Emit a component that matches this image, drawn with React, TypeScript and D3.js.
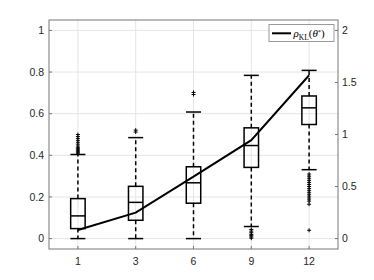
import * as d3 from "d3";

const categories = ["1", "3", "6", "9", "12"];
const whiskerLow = [0, 0, 0, 0.058, 0.331];
const q1 = [0.048, 0.088, 0.17, 0.342, 0.548];
const medians = [0.109, 0.174, 0.268, 0.447, 0.628];
const q3 = [0.192, 0.251, 0.345, 0.532, 0.685];
const whiskerHigh = [0.404, 0.485, 0.608, 0.784, 0.808];
const outliers = [
  [0.41, 0.415, 0.42, 0.425, 0.43, 0.435, 0.44, 0.45, 0.46, 0.47, 0.48, 0.49, 0.5],
  [0.512, 0.521],
  [0.692, 0.702],
  [0.002, 0.008, 0.014, 0.02, 0.028, 0.036, 0.044],
  [0.31, 0.3, 0.29, 0.28, 0.27, 0.26, 0.25, 0.24, 0.23, 0.22, 0.21, 0.2, 0.19, 0.18, 0.165, 0.04],
];
const rhoKL = [0.083, 0.249, 0.596, 0.946, 1.569];
const leftTicks = [0, 0.2, 0.4, 0.6, 0.8, 1];
const rightTicks = [0, 0.5, 1, 1.5, 2];

const W = 374;
const H = 280;
const margin = { left: 49, top: 20, right: 36, bottom: 31 };
const axisColor = "#777777";
const labelColor = "#262626";
const tickFont = "Liberation Sans, Arial, sans-serif";

export default function App() {
  const x = d3
    .scaleLinear()
    .domain([0.5, categories.length + 0.5])
    .range([margin.left, W - margin.right]);
  const y = d3
    .scaleLinear()
    .domain([-0.05, 1.05])
    .range([H - margin.bottom, margin.top]);
  const yR = d3
    .scaleLinear()
    .domain([-0.1, 2.1])
    .range([H - margin.bottom, margin.top]);

  const boxW = x(1.25) - x(1);
  const capW = 7.5;
  const x0 = margin.left;
  const x1 = W - margin.right;
  const y0 = margin.top;
  const y1 = H - margin.bottom;

  const line = d3
    .line<number>()
    .x((_, i) => x(i + 1))
    .y((d) => yR(d));

  return (
    <svg width={W} height={H} style={{ position: "absolute", left: 0, top: 0 }}>
      <rect x={0} y={0} width={W} height={H} fill="white" />
      {/* grid */}
      {leftTicks.map((t) => (
        <line key={"gy" + t} x1={x0} x2={x1} y1={y(t)} y2={y(t)} stroke="#e5e5e5" strokeWidth={1} />
      ))}
      {categories.map((c, i) => (
        <line key={"gx" + c} x1={x(i + 1)} x2={x(i + 1)} y1={y0} y2={y1} stroke="#e5e5e5" strokeWidth={1} />
      ))}

      {/* boxes */}
      {categories.map((c, i) => {
        const cx = x(i + 1);
        return (
          <g key={"box" + c} stroke="black" fill="none">
            <line x1={cx} x2={cx} y1={y(q3[i])} y2={y(whiskerHigh[i])} strokeWidth={1.5} strokeDasharray="4,3" />
            <line x1={cx} x2={cx} y1={y(q1[i])} y2={y(whiskerLow[i])} strokeWidth={1.5} strokeDasharray="4,3" />
            <line x1={cx - capW} x2={cx + capW} y1={y(whiskerHigh[i])} y2={y(whiskerHigh[i])} strokeWidth={1.5} />
            <line x1={cx - capW} x2={cx + capW} y1={y(whiskerLow[i])} y2={y(whiskerLow[i])} strokeWidth={1.5} />
            <rect x={cx - boxW / 2} y={y(q3[i])} width={boxW} height={y(q1[i]) - y(q3[i])} strokeWidth={1.5} />
            <line x1={cx - boxW / 2} x2={cx + boxW / 2} y1={y(medians[i])} y2={y(medians[i])} strokeWidth={1.5} />
            {outliers[i].map((o, j) => (
              <path
                key={j}
                d={`M${cx - 2},${y(o)}H${cx + 2}M${cx},${y(o) - 2}V${y(o) + 2}`}
                strokeWidth={1}
              />
            ))}
          </g>
        );
      })}

      {/* rho KL line */}
      <path d={line(rhoKL) ?? ""} fill="none" stroke="black" strokeWidth={2} />

      {/* frame */}
      <rect x={x0} y={y0} width={x1 - x0} height={y1 - y0} fill="none" stroke={axisColor} strokeWidth={1} />

      {/* left axis */}
      {leftTicks.map((t) => (
        <g key={"ly" + t}>
          <line x1={x0} x2={x0 + 3} y1={y(t)} y2={y(t)} stroke={axisColor} />
          <text x={x0 - 5} y={y(t)} dy="0.35em" textAnchor="end" fontFamily={tickFont} fontSize={10.5} fill={labelColor}>
            {d3.format("~g")(t)}
          </text>
        </g>
      ))}
      {/* right axis */}
      {rightTicks.map((t) => (
        <g key={"ry" + t}>
          <line x1={x1} x2={x1 - 3} y1={yR(t)} y2={yR(t)} stroke={axisColor} />
          <text x={x1 + 4} y={yR(t)} dy="0.35em" textAnchor="start" fontFamily={tickFont} fontSize={10.5} fill={labelColor}>
            {d3.format("~g")(t)}
          </text>
        </g>
      ))}
      {/* bottom axis */}
      {categories.map((c, i) => (
        <g key={"bx" + c}>
          <line x1={x(i + 1)} x2={x(i + 1)} y1={y1} y2={y1 - 3} stroke={axisColor} />
          <text x={x(i + 1)} y={y1 + 12} dy="0.35em" textAnchor="middle" fontFamily={tickFont} fontSize={10.5} fill={labelColor}>
            {c}
          </text>
        </g>
      ))}

      {/* legend */}
      <g>
        <rect x={269} y={24.5} width={65} height={17} fill="white" stroke="#9a9a9a" strokeWidth={1} />
        <line x1={272} x2={291} y1={33.3} y2={33.3} stroke="black" strokeWidth={2} />
        <text x={293.5} y={37} fontFamily="Liberation Serif, Times New Roman, serif" fontSize={11} fill="black">
          <tspan fontStyle="italic">ρ</tspan>
          <tspan fontSize={7.5} dy={2.5}>KL</tspan>
          <tspan dy={-2.5}>(</tspan>
          <tspan fontStyle="italic">θ</tspan>
          <tspan fontSize={6.5} dy={-3.5}>*</tspan>
          <tspan dy={3.5}>)</tspan>
        </text>
      </g>
    </svg>
  );
}
